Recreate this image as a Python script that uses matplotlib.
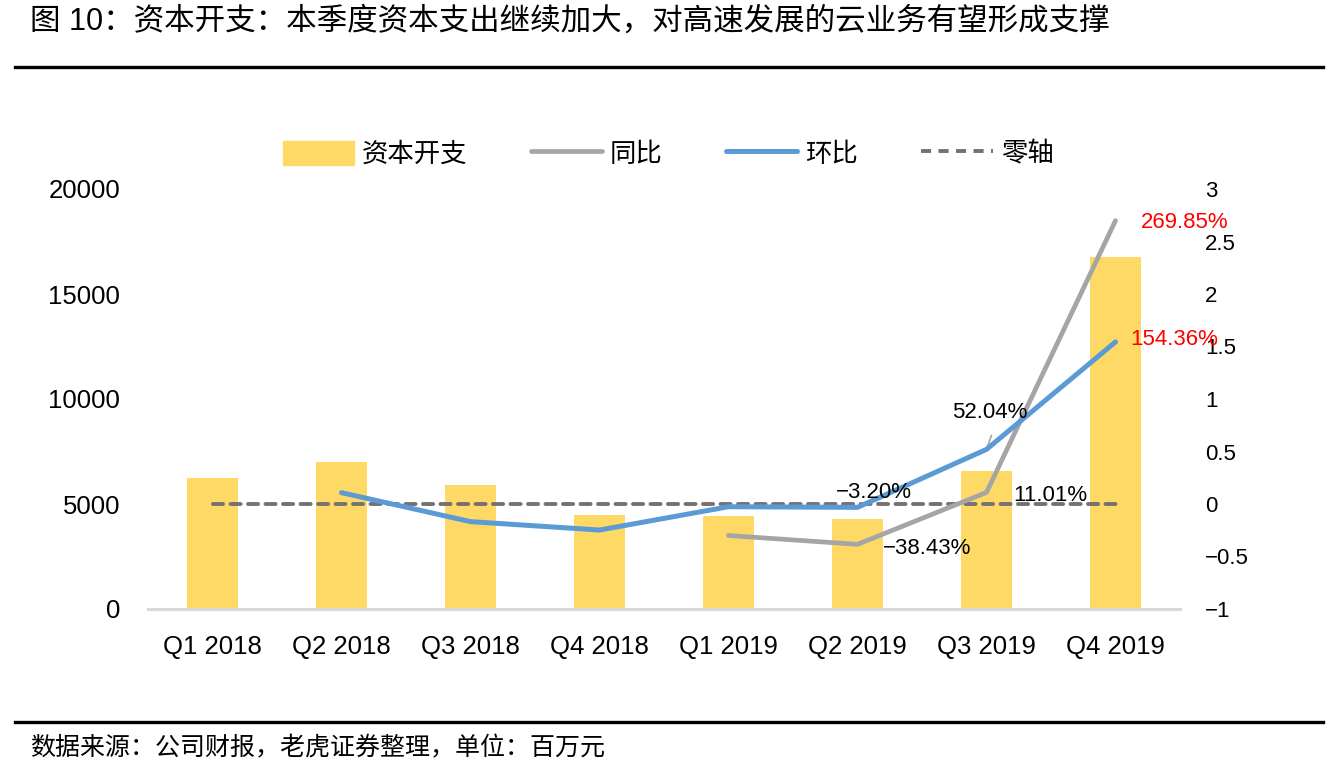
import numpy as np
import matplotlib
matplotlib.use("Agg")
import matplotlib.pyplot as plt
from matplotlib.lines import Line2D
from matplotlib.patches import Patch

plt.rcParams['font.family'] = ['Liberation Sans', 'Noto Sans CJK SC', 'DejaVu Sans']
plt.rcParams['axes.unicode_minus'] = True

# data (millions)
quarters = ["Q1 2018", "Q2 2018", "Q3 2018", "Q4 2018",
            "Q1 2019", "Q2 2019", "Q3 2019", "Q4 2019"]
capex = [6240, 7014, 5905, 4500, 4429, 4286, 6587, 16776]
yoy = [np.nan, np.nan, np.nan, np.nan, -0.30, -0.3843, 0.1101, 2.6985]
qoq = [np.nan, 0.108, -0.168, -0.248, -0.026, -0.032, 0.5204, 1.5436]
zero_line = [0] * len(quarters)

bar_color = "#FFD966"
yoy_color = "#A5A5A5"
qoq_color = "#5B9BD5"
zero_color = "#767171"

W, H = 1331, 769
fig = plt.figure(figsize=(W / 100, H / 100), dpi=100)
ax = fig.add_axes([148 / W, 1 - 609 / H, 1032 / W, 420 / H])
ax2 = ax.twinx()

x = np.arange(len(quarters))
ax.bar(x, capex, width=0.40, color=bar_color, zorder=1)
ax.set_xlim(-0.5, len(quarters) - 0.5)
ax.set_ylim(0, 20000)
ax.set_yticks([0, 5000, 10000, 15000, 20000])
ax.set_xticks(x)
ax.set_xticklabels(quarters)
ax.tick_params(axis="x", length=0, pad=19, labelsize=18.5)
ax.tick_params(axis="y", length=0, pad=20, labelsize=18.5)
for s in ["top", "left", "right"]:
    ax.spines[s].set_visible(False)
ax.spines["bottom"].set_color("#D9D9D9")
ax.spines["bottom"].set_linewidth(2.2)

ax2.plot(x, zero_line, color=zero_color, lw=2.8, dashes=(2.6, 1.9),
         dash_capstyle="round", zorder=3)
ax2.plot(x, yoy, color=yoy_color, lw=3.4, solid_capstyle="round", zorder=4)
ax2.plot(x, qoq, color=qoq_color, lw=3.6, solid_capstyle="round", zorder=5)
ax2.set_ylim(-1, 3)
ax2.set_yticks([-1, -0.5, 0, 0.5, 1, 1.5, 2, 2.5, 3])
ax2.set_yticklabels(["\u22121", "\u22120.5", "0", "0.5", "1", "1.5", "2", "2.5", "3"])
ax2.tick_params(axis="y", length=0, pad=18, labelsize=16)
for s in ["top", "left", "right", "bottom"]:
    ax2.spines[s].set_visible(False)

# data labels (offsets in pixels)
def label(i, series, text, dx, dy, color="#000000", ha="center"):
    ax2.annotate(text, xy=(i, series[i]), xytext=(dx, dy),
                 textcoords="offset pixels", ha=ha, va="center",
                 fontsize=16, color=color, zorder=6)

label(7, yoy, "269.85%", 25, -2, color="#FF0000", ha="left")
label(7, qoq, "154.36%", 15, 2, color="#FF0000", ha="left")
label(6, qoq, "52.04%", 3, 37)
label(5, qoq, "\u22123.20%", 16, 15)
label(6, yoy, "11.01%", 64, -3)
label(5, yoy, "\u221238.43%", 70, -4)
ax2.annotate("", xy=(6, qoq[6]), xytext=(5, 14), textcoords="offset pixels",
             arrowprops=dict(arrowstyle="-", color="#A5A5A5", lw=1.2,
                             shrinkA=0, shrinkB=1))

handles = [Patch(color=bar_color),
           Line2D([], [], color=yoy_color, lw=3.4, solid_capstyle="round"),
           Line2D([], [], color=qoq_color, lw=3.6, solid_capstyle="round"),
           Line2D([], [], color=zero_color, lw=2.8, dashes=(2.6, 1.9))]
fig.legend(handles, ["资本开支", "同比", "环比", "零轴"], loc="center",
           bbox_to_anchor=(0.502, 1 - 154 / H), ncol=4, frameon=False,
           fontsize=19, handlelength=2.7, handleheight=1.0,
           handletextpad=0.3, columnspacing=2.4)

# title, rules and source
fig.text(30 / W, 1 - 22 / H, "图 10：资本开支：本季度资本支出继续加大，对高速发展的云业务有望形成支撑",
         fontsize=22, ha="left", va="center")
fig.add_artist(Line2D([15 / W, 1323 / W], [1 - 67 / H] * 2, color="black",
                      lw=2.4, transform=fig.transFigure))
fig.add_artist(Line2D([15 / W, 1323 / W], [1 - 722 / H] * 2, color="black",
                      lw=2.4, transform=fig.transFigure))
fig.text(30 / W, 1 - 748 / H, "数据来源：公司财报，老虎证券整理，单位：百万元",
         fontsize=18, ha="left", va="center")

fig.savefig("out.png", dpi=100)
